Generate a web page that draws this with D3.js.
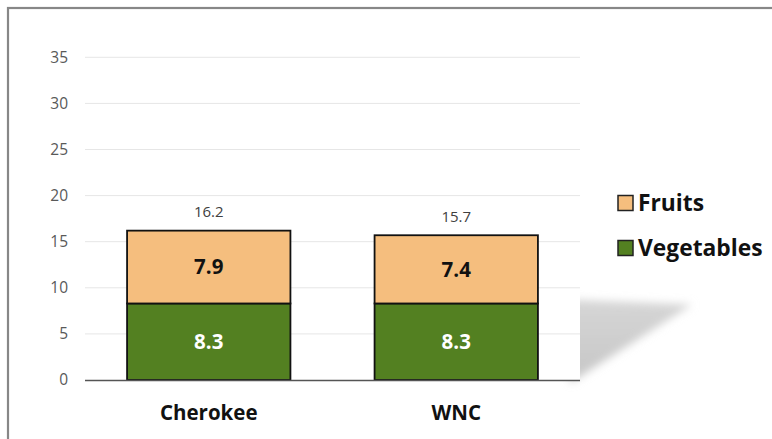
<!DOCTYPE html>
<html><head><meta charset="utf-8">
<script src="https://cdn.jsdelivr.net/npm/d3@7"></script>
<style>
html,body{margin:0;padding:0;background:#fff;}
svg{display:block;font-family:"Open Sans","Noto Sans",sans-serif;}
</style></head>
<body>
<svg id="chart" width="772" height="439"></svg>
<script>
const categories = ["Cherokee", "WNC"];
const seriesNames = ["Vegetables", "Fruits"];
const vegetables = [8.3, 8.3];
const fruits = [7.9, 7.4];
const totals = [16.2, 15.7];
const yTicks = [0, 5, 10, 15, 20, 25, 30, 35];
const colors = {Vegetables: "#538021", Fruits: "#F5BE7E"};

const svg = d3.select("#chart");
const defs = svg.append("defs");
const blur = defs.append("filter").attr("id","blur").attr("x","-20%").attr("y","-20%").attr("width","140%").attr("height","140%");
blur.append("feGaussianBlur").attr("stdDeviation", 4);
const grad = defs.append("linearGradient").attr("id","shgrad").attr("x1",0).attr("y1",0).attr("x2",0).attr("y2",1);
grad.append("stop").attr("offset","0%").attr("stop-color","#d6d6d6");
grad.append("stop").attr("offset","100%").attr("stop-color","#c6c6c6");

// frame
svg.append("rect").attr("x",8).attr("y",8).attr("width",780).attr("height",460)
  .attr("fill","#fff").attr("stroke","#878787").attr("stroke-width",2.2);

const plot = {left: 85, right: 580, top: 57.3, bottom: 380};
const x = d3.scaleBand().domain(categories).range([plot.left, plot.right]).paddingInner(0.34).paddingOuter(0.17);
const y = d3.scaleLinear().domain([0, 35]).range([plot.bottom, plot.top]);

// shadow
svg.append("path")
  .attr("d", `M${plot.right-10},${y(8.7)} L${plot.right+112},${y(8.2)} L${plot.right-10},${y(0)+3} Z`)
  .attr("fill","url(#shgrad)").attr("filter","url(#blur)");
svg.append("rect").attr("x",plot.left).attr("y",30).attr("width",plot.right-plot.left).attr("height",plot.bottom-30+1).attr("fill","#fff");

// grid
svg.append("g").selectAll("line").data(yTicks.filter(d=>d>0)).join("line")
  .attr("x1",plot.left).attr("x2",plot.right)
  .attr("y1",d=>y(d)).attr("y2",d=>y(d))
  .attr("stroke","#e6e6e6").attr("stroke-width",1);

// y axis
const yAxis = d3.axisLeft(y).tickValues(yTicks).tickSize(0).tickPadding(0);
const ya = svg.append("g").attr("transform",`translate(${plot.left-17},0)`).call(yAxis);
ya.select(".domain").remove();
ya.selectAll("text").attr("font-size",15.5).attr("fill","#595959").attr("font-family","'Open Sans',sans-serif");

// stacked data
const rows = categories.map((c,i)=>({cat:c, Vegetables:vegetables[i], Fruits:fruits[i], total: totals[i]}));
const stack = d3.stack().keys(seriesNames)(rows);

const g = svg.append("g");
stack.forEach(layer=>{
  g.append("g").selectAll("rect").data(layer).join("rect")
    .attr("x",d=>x(d.data.cat))
    .attr("width",x.bandwidth())
    .attr("y",d=>y(d[1]))
    .attr("height",d=>y(d[0])-y(d[1]))
    .attr("fill",colors[layer.key])
    .attr("stroke","#111").attr("stroke-width",1.8);
  g.append("g").selectAll("text").data(layer).join("text")
    .attr("x",d=>x(d.data.cat)+x.bandwidth()/2)
    .attr("y",d=>(y(d[0])+y(d[1]))/2)
    .attr("dy","0.36em")
    .attr("text-anchor","middle")
    .attr("font-size",20.5).attr("font-weight","bold")
    .attr("fill",layer.key==="Vegetables"?"#fff":"#111")
    .text(d=>d.data[layer.key].toFixed(1));
});

// totals
g.append("g").selectAll("text").data(rows).join("text")
  .attr("x",d=>x(d.cat)+x.bandwidth()/2)
  .attr("y",d=>y(d.total)-19)
  .attr("dy","0.36em").attr("text-anchor","middle")
  .attr("font-size",15).attr("fill","#404040")
  .text(d=>d.total.toFixed(1));

// baseline
svg.append("line").attr("x1",plot.left).attr("x2",plot.right).attr("y1",y(0)+0.5).attr("y2",y(0)+0.5)
  .attr("stroke","#555").attr("stroke-width",1.5);

// x axis labels
const xAxis = d3.axisBottom(x).tickSize(0).tickPadding(0);
const xa = svg.append("g").attr("transform",`translate(0,${y(0)+25})`).call(xAxis);
xa.select(".domain").remove();
xa.selectAll("text").attr("font-size",20.5).attr("font-weight","bold").attr("fill","#111")
  .attr("font-family","'Open Sans',sans-serif");

// legend
const legendItems = ["Fruits","Vegetables"];
const leg = svg.append("g");
legendItems.forEach((k,i)=>{
  const ly = 203 + i*45;
  leg.append("rect").attr("x",618).attr("y",ly-7.5).attr("width",15).attr("height",15)
    .attr("fill",colors[k]).attr("stroke","#222").attr("stroke-width",1.5);
  leg.append("text").attr("x",638).attr("y",ly).attr("dy","0.36em")
    .attr("font-size",22.8).attr("font-weight","bold").attr("fill","#111").text(k);
});
</script>
</body></html>
